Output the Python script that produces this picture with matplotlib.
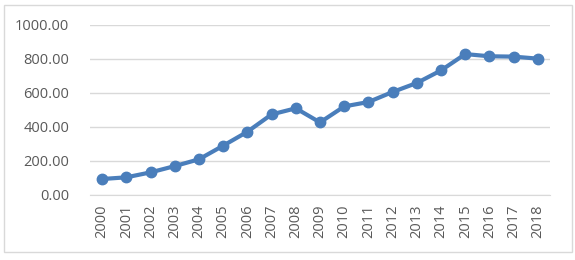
import matplotlib
matplotlib.use("Agg")
import matplotlib.pyplot as plt
from matplotlib.patches import Rectangle

years = [str(y) for y in range(2000, 2019)]
values = [94, 104, 133, 170, 210, 290, 372, 474, 510, 427, 521, 547, 606, 659, 733, 829, 816, 814, 802]
yticks = [0, 200, 400, 600, 800, 1000]
ytick_labels = ["0.00", "200.00", "400.00", "600.00", "800.00", "1000.00"]

plt.rcParams['font.family'] = ['Open Sans', 'DejaVu Sans']
fig = plt.figure(figsize=(5.75, 2.6), dpi=100)
ax = fig.add_axes([90/575, 1-195/260, 460/575, 170/260])

x = list(range(len(years)))
ax.plot(x, values, color='#4a7ebb', lw=3, marker='o', ms=7.5, mfc='#4a7ebb', mec='#4a7ebb', zorder=3)

ax.set_xlim(-0.5, len(years)-0.5)
ax.set_ylim(0, 1000)
ax.set_yticks(yticks)
ax.set_yticklabels(ytick_labels)
ax.set_xticks(x)
ax.set_xticklabels(years, rotation=90)
ax.grid(axis='y', color='#d9d9d9', lw=1)
ax.set_axisbelow(True)
for s in ['top', 'right', 'left']:
    ax.spines[s].set_visible(False)
ax.spines['bottom'].set_color('#d9d9d9')
ax.tick_params(axis='both', length=0, colors='#595959', labelsize=10.5)
ax.tick_params(axis='y', pad=15)
ax.tick_params(axis='x', pad=7)

fig.patches.append(Rectangle((4/575, 1-252/260), 568/575, 247/260, transform=fig.transFigure,
                             fill=False, edgecolor='#d9d9d9', lw=1))
fig.savefig('out.png', dpi=100)
